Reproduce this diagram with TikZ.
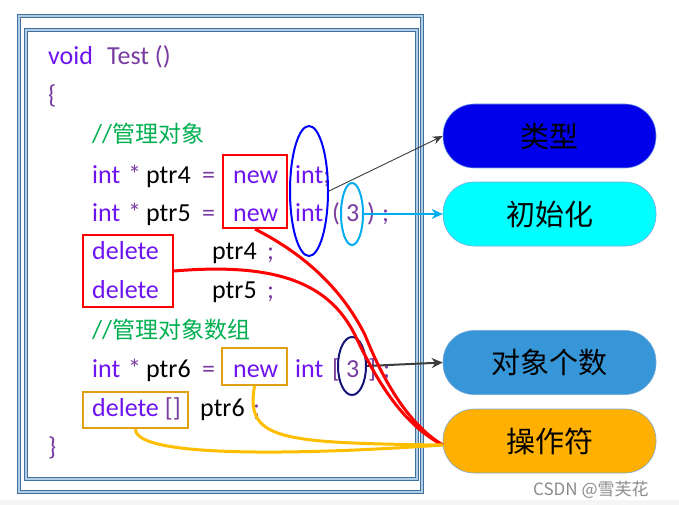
\documentclass[tikz,border=0pt]{standalone}
\usepackage{fontspec}
\setmainfont{Carlito}
\newfontfamily\cjk{Noto Sans CJK SC}
\usetikzlibrary{shapes.geometric,arrows.meta}
\definecolor{kw}{RGB}{110,20,240}
\definecolor{pu}{RGB}{120,60,160}
\definecolor{cm}{RGB}{0,176,80}
\definecolor{steel}{RGB}{65,113,156}
\definecolor{steellight}{RGB}{175,205,228}
\definecolor{pillborder}{RGB}{120,170,220}
\definecolor{typeblue}{RGB}{0,0,235}
\definecolor{initcyan}{RGB}{0,255,255}
\definecolor{countblue}{RGB}{55,150,215}
\definecolor{oporange}{RGB}{255,176,0}
\definecolor{curveorange}{RGB}{255,190,0}
\definecolor{boxorange}{RGB}{225,160,20}
\definecolor{arrowgray}{RGB}{60,60,60}
\definecolor{navyell}{RGB}{20,20,120}
\begin{document}
\begin{tikzpicture}[x=1pt,y=-1pt,
  code/.style={anchor=base west, inner sep=0pt, font=\fontsize{26}{26}\selectfont},
  kwt/.style={code, text=kw},
  put/.style={code, text=pu},
  blk/.style={code, text=black},
  cmt/.style={code, text=cm},
  frame/.style={draw=steel, line width=1.3pt, double=steellight, double distance=1.2pt},
  redbox/.style={draw=red, line width=2.2pt, inner sep=0pt},
  orbox/.style={draw=boxorange, line width=2.2pt, inner sep=0pt},
  ell/.style={ellipse, line width=2pt, inner sep=0pt},
  pill/.style={rounded corners=31pt, minimum width=213pt, minimum height=64pt, draw=pillborder, line width=0.6pt, inner sep=0pt, text=black, font=\cjk\fontsize{29}{29}\selectfont},
  thinarrow/.style={draw=arrowgray, line width=0.9pt, -{Stealth[length=10pt,width=8pt]}},
  redcurve/.style={draw=red, line width=3pt},
  orcurve/.style={draw=curveorange, line width=3pt}
]
\useasboundingbox (0,0) rectangle (679,505);
\fill[white] (0,0) rectangle (679,505);
\fill[black!4] (0,500) rectangle (679,505);

% frames
\draw[frame] (19,16) rectangle (422,492);
\draw[frame] (26,30) rectangle (417,479);

% code lines
\node[kwt] (l1a) at (48,65) {void};
\node[put] (l1b) at (107,65) {Test ()};
\node[put] (l2) at (48,104) {\{};
\node[cmt] (l3) at (92,143) {//{\cjk\fontsize{23}{23}\selectfont 管理对象}};

\node[kwt] (l4a) at (92,183) {int};
\node[put] (l4b) at (128,183) {*};
\node[blk] (l4c) at (146,183) {ptr4};
\node[put] (l4d) at (202,183) {=};
\node[kwt] (l4e) at (233,183) {new};
\node[kwt] (l4f) at (295,183) {int\textcolor{pu}{;}};

\node[kwt] (l5a) at (92,221) {int};
\node[put] (l5b) at (128,221) {*};
\node[blk] (l5c) at (146,221) {ptr5};
\node[put] (l5d) at (202,221) {=};
\node[kwt] (l5e) at (233,221) {new};
\node[kwt] (l5f) at (295,221) {int};
\node[put] (l5g) at (332,221) {(};
\node[put] (l5h) at (346,221) {3};
\node[put] (l5i) at (367,221) {)};
\node[put] (l5j) at (382,221) {;};

\node[kwt] (l6a) at (92,259) {delete};
\node[blk] (l6b) at (212,259) {ptr4};
\node[put] (l6c) at (267,259) {;};

\node[kwt] (l7a) at (92,298) {delete};
\node[blk] (l7b) at (212,298) {ptr5};
\node[put] (l7c) at (267,298) {;};

\node[cmt] (l8) at (92,338) {//{\cjk\fontsize{23}{23}\selectfont 管理对象数组}};

\node[kwt] (l9a) at (92,377) {int};
\node[put] (l9b) at (128,377) {*};
\node[blk] (l9c) at (146,377) {ptr6};
\node[put] (l9d) at (202,377) {=};
\node[kwt] (l9e) at (233,377) {new};
\node[kwt] (l9f) at (295,377) {int};
\node[put] (l9g) at (332,377) {[};
\node[put] (l9h) at (346,377) {3};
\node[put] (l9i) at (368,377) {]};
\node[put] (l9j) at (383,377) {;};

\node[kwt] (l10a) at (92,416) {delete \textcolor{pu}{[]}};
\node[blk] (l10b) at (200,416) {ptr6};
\node[put] (l10c) at (253,416) {;};

\node[put] (l11) at (48,455) {\}};

% highlight boxes
\node[redbox, minimum width=64pt, minimum height=73pt] (newbox) at (255,191.5) {};
\node[redbox, minimum width=90pt, minimum height=72pt] (delbox) at (128,271) {};
\node[orbox, minimum width=65pt, minimum height=37pt] (newsix) at (254.5,366.5) {};
\node[orbox, minimum width=105pt, minimum height=36pt] (delsix) at (135.5,410) {};

% ellipses
\node[ell, draw=blue, minimum width=38pt, minimum height=130pt] (ellType) at (309,191) {};
\node[ell, draw=cyan, minimum width=22pt, minimum height=62pt] (ellInit) at (352,214) {};
\node[ell, draw=navyell, minimum width=28pt, minimum height=58pt] (ellCount) at (352,366) {};

% pills
\node[pill, fill=typeblue] (type) at (549.5,136) {类型};
\node[pill, fill=initcyan] (init) at (549.5,214) {初始化};
\node[pill, fill=countblue] (count) at (549.5,362.5) {对象个数};
\node[pill, fill=oporange] (op) at (549.5,441) {操作符};

% arrows
\draw[thinarrow] (ellType.east) -- (type.west);
\draw[draw=cyan, line width=2.2pt, -{Stealth[length=11pt,width=10pt]}] (ellInit.east) -- (init.west);
\draw[draw=arrowgray, line width=2pt, -{Stealth[length=11pt,width=10pt]}] (ellCount.east) -- (count.west);

% curves to operator
\coordinate (opin) at ([yshift=-4pt]op.west);
\draw[redcurve] (newbox.south) .. controls (300,252) and (340,285) .. (365,335) .. controls (385,385) and (410,425) .. (opin);
\draw[redcurve] (delbox.east) .. controls (280,262) and (330,285) .. (355,335) .. controls (383,395) and (410,428) .. (opin);
\draw[orcurve] (newsix.south) .. controls (245,440) and (280,443) .. (opin);
\draw[orcurve] (delsix.south) .. controls (135,458) and (300,455) .. (opin);

% watermark
\node[anchor=base west, inner sep=0pt, text=black!45, font=\cjk\fontsize{17}{17}\selectfont] (wm) at (533,495) {CSDN @雪芙花};
\end{tikzpicture}
\end{document}
